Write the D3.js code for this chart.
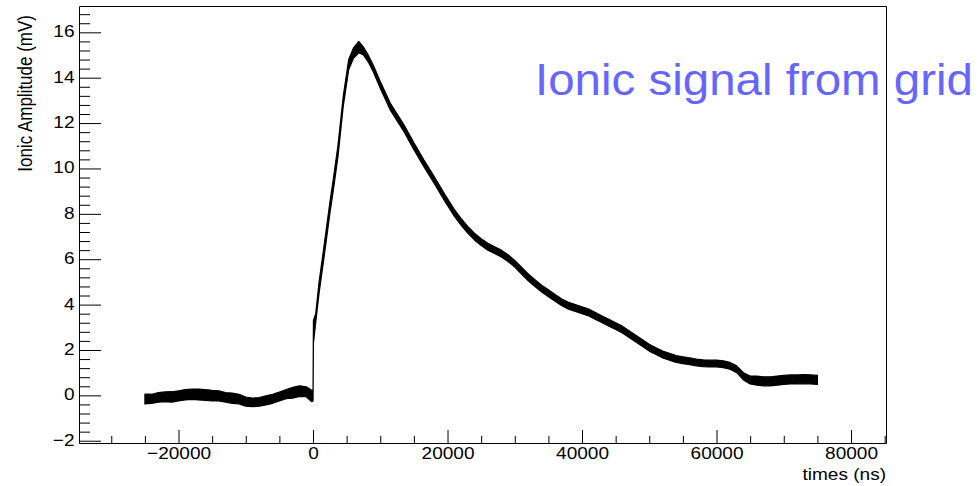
<!DOCTYPE html>
<html>
<head>
<meta charset="utf-8">
<script src="https://cdn.jsdelivr.net/npm/d3@7"></script>
<style>
  body { margin: 0; background: #fff; }
  svg { display: block; font-family: 'Liberation Sans', Arial, sans-serif; }
  .axis path, .axis line { stroke: #000; }
</style>
</head>
<body>
<div id="chart-area"></div>
<script>
// sample times (ns) and the min / max envelope of the noisy trace (mV)
const times = [
  -25000, -24000, -23000, -22000, -21000, -20000, -19000, -18000, -17000, -16000,
  -15000, -14000, -13000, -12000, -11000, -10000, -9000, -8000, -7000, -6000,
  -5000, -4000, -3000, -2000, -1000, -200, 0, 60, 400, 900,
  1600, 2500, 3000, 3700, 4500, 5300, 6000, 6800, 7500, 8300,
  9000, 10000, 11500, 13500, 15000, 16500, 18000, 19500, 21000, 22000,
  23000, 24000, 25000, 26000, 27000, 28000, 29000, 30000, 31000, 32000,
  33000, 34000, 35000, 36000, 37000, 38000, 39000, 40000, 41000, 42000,
  43000, 44000, 45000, 46000, 47000, 48000, 49000, 50000, 51000, 52000,
  53000, 54000, 55000, 56000, 57000, 58000, 59000, 60000, 61000, 62000,
  63000, 64000, 65000, 66000, 67000, 68000, 69000, 70000, 71000, 72000,
  73000, 74000, 75000
];
const ampLow = [
  -0.38, -0.35, -0.30, -0.28, -0.30, -0.25, -0.20, -0.18, -0.20, -0.22,
  -0.25, -0.25, -0.30, -0.35, -0.38, -0.48, -0.50, -0.48, -0.42, -0.35,
  -0.25, -0.15, -0.12, -0.05, -0.06, -0.28, -0.25, 2.3, 3.2, 4.5,
  6.0, 8.0, 9.0, 10.5, 12.75, 14.35, 14.85, 15.1, 15.0, 14.65,
  14.23, 13.53, 12.57, 11.63, 10.83, 10.07, 9.35, 8.6, 7.9, 7.5,
  7.15, 6.85, 6.6, 6.4, 6.25, 6.1, 5.9, 5.65, 5.35, 5.05,
  4.8, 4.55, 4.35, 4.15, 3.95, 3.8, 3.7, 3.6, 3.5, 3.35,
  3.2, 3.05, 2.9, 2.75, 2.55, 2.35, 2.15, 1.95, 1.8, 1.65,
  1.55, 1.45, 1.4, 1.35, 1.3, 1.27, 1.25, 1.25, 1.22, 1.15,
  1.0, 0.68, 0.5, 0.45, 0.42, 0.42, 0.45, 0.48, 0.5, 0.5,
  0.52, 0.5, 0.48
];
const ampHigh = [
  0.05, 0.05, 0.12, 0.15, 0.16, 0.20, 0.25, 0.28, 0.28, 0.25,
  0.22, 0.20, 0.12, 0.10, 0.05, -0.08, -0.12, -0.10, -0.02, 0.05,
  0.15, 0.25, 0.35, 0.42, 0.38, 0.23, 0.20, 3.3, 3.6, 5.0,
  6.5, 8.5, 9.5, 11.0, 13.2, 14.8, 15.3, 15.6, 15.35, 14.95,
  14.53, 13.83, 12.87, 11.93, 11.13, 10.37, 9.65, 8.9, 8.2, 7.8,
  7.45, 7.15, 6.9, 6.7, 6.55, 6.4, 6.2, 5.95, 5.65, 5.35,
  5.1, 4.85, 4.65, 4.45, 4.25, 4.1, 4.0, 3.9, 3.8, 3.65,
  3.5, 3.35, 3.2, 3.05, 2.85, 2.65, 2.45, 2.25, 2.1, 1.95,
  1.85, 1.75, 1.7, 1.65, 1.6, 1.57, 1.55, 1.55, 1.52, 1.45,
  1.3, 1.0, 0.85, 0.85, 0.82, 0.82, 0.85, 0.88, 0.9, 0.9,
  0.92, 0.9, 0.88
];
const xMajorTicks = [-20000, 0, 20000, 40000, 60000, 80000];
const yMajorTicks = [-2, 0, 2, 4, 6, 8, 10, 12, 14, 16];
const xLabel = 'times (ns)';
const yLabel = 'Ionic Amplitude (mV)';
const title = 'Ionic signal from grid';

const chartSize = { width: 979, height: 486 };
const frame = { left: 79, right: 886, top: 6, bottom: 443 };
const stretch = 1.14;

const svg = d3.select('#chart-area').append('svg')
  .attr('width', chartSize.width)
  .attr('height', chartSize.height);

const x = d3.scaleLinear().domain([-34800, 85200]).range([frame.left, frame.right]);
const y = d3.scaleLinear().domain([-2.1, 17.16]).range([frame.bottom, frame.top]);
const fmt = d3.format('d');

const xMinor = d3.range(-30000, 85001, 5000).filter(v => v % 20000 !== 0);
const yMinor = d3.range(-20, 172, 4).map(v => v / 10).filter(v => Math.round(v * 10) % 20 !== 0);

// frame
svg.append('path')
  .attr('d', `M${frame.left + 0.5},${frame.top + 0.5}H${frame.right + 0.5}V${frame.bottom + 0.5}`)
  .attr('fill', 'none').attr('stroke', '#000');

// minor ticks
svg.append('g').attr('class', 'axis')
  .attr('transform', `translate(0,${frame.bottom})`)
  .call(d3.axisBottom(x).tickValues(xMinor).tickSize(-7).tickFormat(''))
  .call(g => g.select('.domain').remove());
svg.append('g').attr('class', 'axis')
  .attr('transform', `translate(${frame.left},0)`)
  .call(d3.axisLeft(y).tickValues(yMinor).tickSize(-11).tickFormat(''))
  .call(g => g.select('.domain').remove());

// major ticks + labels
const xAxisG = svg.append('g').attr('class', 'axis x')
  .attr('transform', `translate(0,${frame.bottom})`)
  .call(d3.axisBottom(x).tickValues(xMajorTicks).tickSize(-13).tickSizeOuter(0).tickFormat(fmt));
xAxisG.selectAll('text')
  .attr('y', null).attr('dy', null)
  .attr('transform', `translate(0,16) scale(${stretch},1)`)
  .attr('font-size', 16.7).attr('fill', '#000');

const yAxisG = svg.append('g').attr('class', 'axis y')
  .attr('transform', `translate(${frame.left},0)`)
  .call(d3.axisLeft(y).tickValues(yMajorTicks).tickSize(-22).tickSizeOuter(0).tickFormat(fmt));
yAxisG.selectAll('text')
  .attr('x', null).attr('dy', null)
  .attr('transform', `translate(-4.5,4.5) scale(${stretch},1)`)
  .attr('font-size', 16.7).attr('fill', '#000');

svg.selectAll('.axis').attr('font-family', null);

// axis titles
svg.append('text')
  .attr('transform', `translate(${frame.right},480) scale(${stretch},1)`)
  .attr('text-anchor', 'end')
  .attr('font-size', 16.7)
  .text(xLabel);
svg.append('text')
  .attr('transform', `translate(32,15) scale(${stretch},1) rotate(-90)`)
  .attr('text-anchor', 'end')
  .attr('font-size', 17)
  .text(yLabel);

// the trace, drawn as its noise envelope
const data = times.map((t, i) => ({ t, lo: ampLow[i], hi: ampHigh[i] }));
const area = d3.area().x(d => x(d.t)).y0(d => y(d.lo)).y1(d => y(d.hi));
svg.append('path')
  .attr('d', area(data))
  .attr('fill', '#000')
  .attr('stroke', '#000')
  .attr('stroke-width', 1.2)
  .attr('stroke-linejoin', 'round');

// overlay title
svg.append('text')
  .attr('x', 535)
  .attr('y', 95)
  .attr('font-size', 45)
  .attr('fill', '#6666ff')
  .attr('textLength', 438)
  .attr('lengthAdjust', 'spacingAndGlyphs')
  .text(title);
</script>
</body>
</html>
